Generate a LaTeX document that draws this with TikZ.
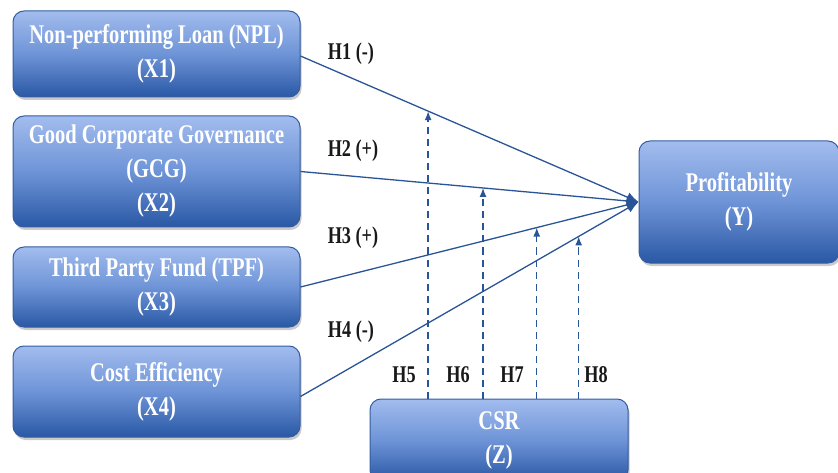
\documentclass[tikz,border=0pt]{standalone}
\usepackage{fontspec}
\newfontfamily\condfont[FakeStretch=0.76]{Liberation Serif}
\usetikzlibrary{arrows.meta,shadows,calc}
\definecolor{boxtop}{RGB}{162,188,238}
\definecolor{boxmid}{RGB}{110,148,215}
\definecolor{boxbot}{RGB}{42,88,165}
\definecolor{boxline}{RGB}{52,92,162}
\definecolor{arrowc}{RGB}{42,84,152}
\tikzset{
  vbox/.style={draw=boxline, line width=1pt, rounded corners=11pt,
    top color=boxtop, bottom color=boxbot, middle color=boxmid,
    drop shadow={shadow xshift=1.5pt, shadow yshift=-3pt, opacity=0.35, fill=black!60},
    inner sep=0pt, align=center, text=white,
    font=\condfont\bfseries\fontsize{27}{34}\selectfont},
  hlabel/.style={inner sep=0pt, text=black!90,
    font=\condfont\bfseries\fontsize{24}{28}\selectfont},
  mainarrow/.style={draw=arrowc, line width=1.3pt, -{Latex[length=12pt,width=10pt]}},
  dasharrow/.style={draw=arrowc, line width=1.3pt, dash pattern=on 7pt off 5pt,
    -{Latex[length=9pt,width=7pt]}}
}
\begin{document}
\begin{tikzpicture}[x=1pt,y=-1pt]
\useasboundingbox (0,0) rectangle (838,473);
% boxes
\node[vbox, minimum width=287pt, minimum height=86pt] (x1) at (156.5,54)
  {Non-performing Loan (NPL)\\(X1)};
\node[vbox, minimum width=287pt, minimum height=111pt] (x2) at (156.5,171.5)
  {Good Corporate Governance\\(GCG)\\(X2)};
\node[vbox, minimum width=287pt, minimum height=80pt] (x3) at (156.5,287)
  {Third Party Fund (TPF)\\(X3)};
\node[vbox, minimum width=287pt, minimum height=91pt] (x4) at (156.5,391.5)
  {Cost Efficiency\\(X4)};
\node[vbox, minimum width=200pt, minimum height=122pt] (y) at (739,202)
  {Profitability\\(Y)};
\node[vbox, minimum width=258pt, minimum height=82pt] (z) at (499,440)
  {CSR\\(Z)};
% main arrows
\draw[mainarrow] ([yshift=-2pt]x1.east) -- (y.west);
\draw[mainarrow] (x2.east) -- (y.west);
\draw[mainarrow] (x3.east) -- (y.west);
\draw[mainarrow] ([yshift=-5pt]x4.east) -- (y.west);
% moderation points
\coordinate (m5) at ($([yshift=-2pt]x1.east)!0.3776!(y.west)$);
\coordinate (m6) at ($(x2.east)!0.54!(y.west)$);
\coordinate (m7) at ($(x3.east)!0.699!(y.west)$);
\coordinate (m8) at ($([yshift=-5pt]x4.east)!0.823!(y.west)$);
\draw[dasharrow] (m5 |- z.north) -- (m5);
\draw[dasharrow] (m6 |- z.north) -- (m6);
\draw[dasharrow] (m7 |- z.north) -- (m7);
\draw[dasharrow] (m8 |- z.north) -- (m8);
% labels
\node[hlabel] (h1) at (351,54) {H1 (-)};
\node[hlabel] (h2) at (353,151) {H2 (+)};
\node[hlabel] (h3) at (353,238) {H3 (+)};
\node[hlabel] (h4) at (351,332) {H4 (-)};
\node[hlabel] (h5) at (404,375) {H5};
\node[hlabel] (h6) at (458,375) {H6};
\node[hlabel] (h7) at (512,375) {H7};
\node[hlabel] (h8) at (596,375) {H8};
\end{tikzpicture}
\end{document}
